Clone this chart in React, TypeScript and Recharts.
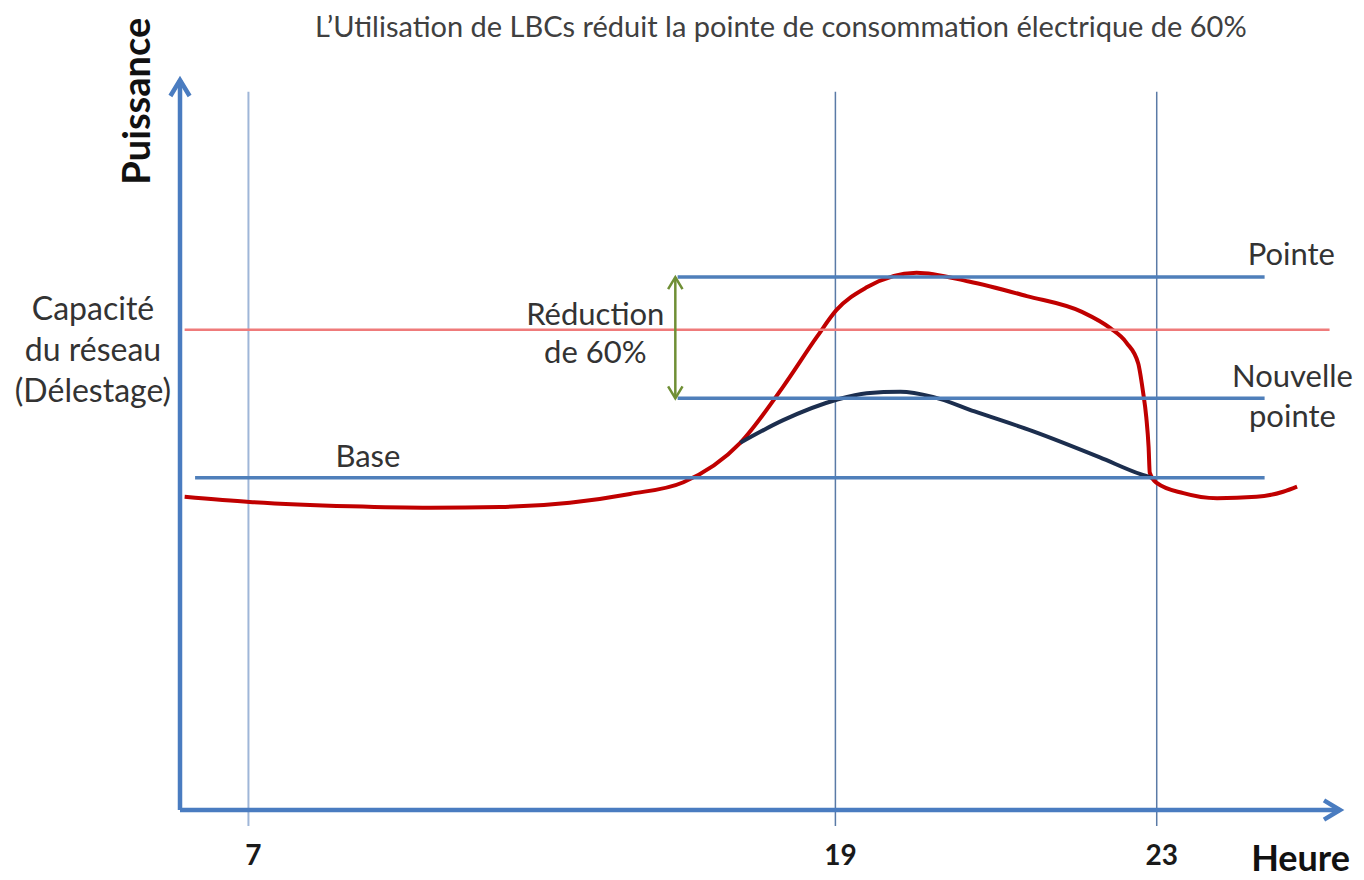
import { ComposedChart, Line, XAxis, YAxis, ReferenceLine, ReferenceDot } from "recharts"

// schematic units: x 0..100 along the time arrow, y 0..100 up the power arrow
const hourTicks = [5.9, 56.5, 84.2]
const hourLabels = ["7", "19", "23"]

const peakX = [0.4, 6, 14.7, 21.6, 27.6, 33.6, 38.8, 43.4, 48.3, 52, 54.9, 56.6, 59.2, 63.5, 68, 73, 77.8, 80.2, 81.6, 82.6, 83, 83.3, 83.5, 83.6, 84.2, 86.5, 89.4, 92.8, 95.1, 96.3]
const peakY = [42.9, 42.2, 41.6, 41.4, 41.5, 42.1, 43.3, 44.9, 50.3, 58, 64.8, 68.5, 71.6, 73.6, 72.4, 70.4, 68.2, 66, 64, 61.2, 57.5, 53.8, 49.7, 46.2, 44.8, 43.4, 42.7, 42.9, 43.6, 44.3]

const lbcX = [48.3, 52, 56.6, 59.2, 62.1, 64.9, 68.5, 73.5, 79.3, 82.8, 83.8]
const lbcY = [50.3, 53.4, 56.2, 57.1, 57.3, 56.6, 54.6, 51.9, 48.3, 46, 45.5]

const levelPointe = 73
const levelNouvelle = 56.4
const levelBase = 45.5
const levelCapacite = 65.8

const peakData = peakX.map((x, i) => ({ x, y: peakY[i] }))
const lbcData = lbcX.map((x, i) => ({ x, y: lbcY[i] }))

const FONT = "Lato, 'Open Sans', sans-serif"
const BLUE = "#4f7fba"

function chevron(x: number, y: number, dx: number, dy: number, size: number) {
  // open arrow head pointing in direction (dx, dy)
  const len = Math.hypot(dx, dy) || 1
  const ux = dx / len
  const uy = dy / len
  const bx = x - ux * size
  const by = y - uy * size
  const px = -uy * size * 0.6
  const py = ux * size * 0.6
  return `${bx + px},${by + py} ${x},${y} ${bx - px},${by - py}`
}

const arrowShape = (color: string, width: number, both: boolean, size: number) => (p: any) => {
  const { x1, y1, x2, y2 } = p
  return (
    <g>
      <line x1={x1} y1={y1} x2={x2} y2={y2} stroke={color} strokeWidth={width} />
      <polyline points={chevron(x2, y2, x2 - x1, y2 - y1, size)} fill="none" stroke={color} strokeWidth={width} />
      {both && <polyline points={chevron(x1, y1, x1 - x2, y1 - y2, size)} fill="none" stroke={color} strokeWidth={width} />}
    </g>
  )
}

const note = (lines: string[], opts: { size?: number; bold?: boolean; rotate?: boolean; gap?: number; color?: string } = {}) => (p: any) => {
  const { cx, cy } = p
  const size = opts.size ?? 31
  const gap = opts.gap ?? 40
  return (
    <text
      x={cx}
      y={cy}
      textAnchor="middle"
      fontFamily={FONT}
      fontSize={size}
      fontWeight={opts.bold ? 700 : 400}
      fill={opts.color ?? "#333"}
      transform={opts.rotate ? `rotate(-90 ${cx} ${cy})` : undefined}
    >
      {lines.map((t, i) => (
        <tspan key={i} x={cx} dy={i === 0 ? 0 : gap}>
          {t}
        </tspan>
      ))}
    </text>
  )
}

export default function App() {
  return (
    <div style={{ position: "absolute", left: 0, top: 0, width: 1364, height: 880, background: "#fff" }}>
      <ComposedChart width={1364} height={880} margin={{ top: 80, right: 24, bottom: 0, left: 180 }}>
        <XAxis
          type="number"
          dataKey="x"
          domain={[0, 100]}
          ticks={hourTicks}
          tickFormatter={(v: number) => hourLabels[hourTicks.indexOf(v)] ?? ""}
          axisLine={false}
          tickLine={false}
          height={70}
          tickMargin={29}
          tick={{ fontSize: 28, fontWeight: 700, fill: "#1a1a1a", fontFamily: FONT, dx: 5 }}
          allowDuplicatedCategory={false}
        />
        <YAxis type="number" domain={[0, 100]} hide />

        {/* hour guides */}
        <ReferenceLine segment={[{ x: hourTicks[0], y: -2.2 }, { x: hourTicks[0], y: 98.4 }]} stroke="#9fb6d8" strokeWidth={2} ifOverflow="visible" />
        <ReferenceLine segment={[{ x: hourTicks[1], y: -2.2 }, { x: hourTicks[1], y: 98.4 }]} stroke="#5a7aa6" strokeWidth={1.5} ifOverflow="visible" />
        <ReferenceLine segment={[{ x: hourTicks[2], y: -2.2 }, { x: hourTicks[2], y: 98.4 }]} stroke="#5a7aa6" strokeWidth={1.5} ifOverflow="visible" />

        <Line data={peakData} dataKey="y" type="monotone" dot={false} stroke="#c00000" strokeWidth={4} isAnimationActive={false} />
        <Line data={lbcData} dataKey="y" type="monotone" dot={false} stroke="#1c2e4e" strokeWidth={4} isAnimationActive={false} />

        {/* levels */}
        <ReferenceLine segment={[{ x: 0.4, y: levelCapacite }, { x: 99.1, y: levelCapacite }]} stroke="#ef7b7b" strokeWidth={2.5} ifOverflow="visible" />
        <ReferenceLine segment={[{ x: 42.9, y: levelPointe }, { x: 93.5, y: levelPointe }]} stroke={BLUE} strokeWidth={3.5} ifOverflow="visible" />
        <ReferenceLine segment={[{ x: 42.9, y: levelNouvelle }, { x: 93.5, y: levelNouvelle }]} stroke={BLUE} strokeWidth={3.5} ifOverflow="visible" />
        <ReferenceLine segment={[{ x: 1.3, y: levelBase }, { x: 93.5, y: levelBase }]} stroke={BLUE} strokeWidth={3.5} ifOverflow="visible" />

        {/* reduction arrow */}
        <ReferenceLine
          segment={[{ x: 42.7, y: levelPointe }, { x: 42.7, y: levelNouvelle }]}
          ifOverflow="visible"
          shape={arrowShape("#6f8f35", 2.5, true, 12)}
        />

        {/* axes */}
        <ReferenceLine segment={[{ x: 0, y: 0 }, { x: 100, y: 0 }]} ifOverflow="visible" shape={arrowShape("#4a7cc0", 4.5, false, 16)} />
        <ReferenceLine segment={[{ x: 0, y: 0 }, { x: 0, y: 100 }]} ifOverflow="visible" shape={arrowShape("#4a7cc0", 4.5, false, 16)} />

        {/* annotations */}
        <ReferenceDot x={51.8} y={105.9} r={0} ifOverflow="visible" shape={note(["L’Utilisation de LBCs réduit la pointe de consommation électrique de 60%"], { size: 29, color: "#404040" })} />
        <ReferenceDot x={-2.6} y={97.1} r={0} ifOverflow="visible" shape={note(["Puissance"], { size: 38, bold: true, rotate: true, color: "#111" })} />
        <ReferenceDot x={96.6} y={-8.4} r={0} ifOverflow="visible" shape={note(["Heure"], { size: 36, bold: true, color: "#111" })} />
        <ReferenceDot x={-7.5} y={67.1} r={0} ifOverflow="visible" shape={note(["Capacité", "du réseau", "(Délestage)"], { size: 32, gap: 41 })} />
        <ReferenceDot x={35.8} y={66.4} r={0} ifOverflow="visible" shape={note(["Réduction", "de 60%"], { size: 31, gap: 38 })} />
        <ReferenceDot x={95.8} y={74.7} r={0} ifOverflow="visible" shape={note(["Pointe"])} />
        <ReferenceDot x={95.9} y={57.9} r={0} ifOverflow="visible" shape={note(["Nouvelle", "pointe"], { gap: 40 })} />
        <ReferenceDot x={16.2} y={47} r={0} ifOverflow="visible" shape={note(["Base"])} />
      </ComposedChart>
    </div>
  )
}
